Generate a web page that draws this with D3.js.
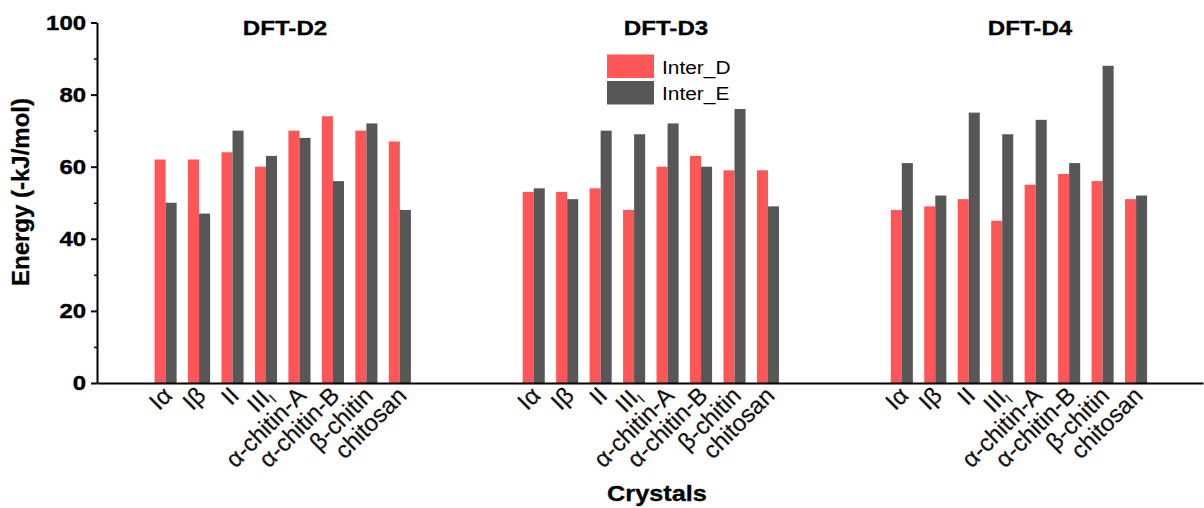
<!DOCTYPE html>
<html>
<head>
<meta charset="utf-8">
<script src="https://cdn.jsdelivr.net/npm/d3@7"></script>
<style>
  html, body { margin: 0; padding: 0; background: #fff; }
  svg { display: block; font-family: Arial, "Liberation Sans", sans-serif; }
</style>
</head>
<body>
<script>
// ---- data ----
const groups = ["DFT-D2", "DFT-D3", "DFT-D4"];
const crystals = ["Iα", "Iβ", "II", "III_I", "α-chitin-A", "α-chitin-B", "β-chitin", "chitosan"];
const seriesNames = ["Inter_D", "Inter_E"];
const d2InterD = [62, 62, 64, 60, 70, 74, 70, 67];
const d2InterE = [50, 47, 70, 63, 68, 56, 72, 48];
const d3InterD = [53, 53, 54, 48, 60, 63, 59, 59];
const d3InterE = [54, 51, 70, 69, 72, 60, 76, 49];
const d4InterD = [48, 49, 51, 45, 55, 58, 56, 51];
const d4InterE = [61, 52, 75, 69, 73, 61, 88, 52];
const yMajorTicks = [0, 20, 40, 60, 80, 100];
const yMinorTicks = [10, 30, 50, 70, 90];

const colors = ["#fd5656", "#575757"];
const interD = [d2InterD, d3InterD, d4InterD];
const interE = [d2InterE, d3InterE, d4InterE];

const W = 1204, H = 508;
const svg = d3.select("body").append("svg").attr("width", W).attr("height", H);

const slotsPerGroup = 11;
const slot = (g, i) => g * slotsPerGroup + i;
const x = d3.scaleLinear().domain([-2.05, 31.0]).range([97, 1203]);
const y = d3.scaleLinear().domain([0, 100]).range([383, 22.5]);
const step = x(1) - x(0);
const barW = step * 0.33;

// bars
const barData = [];
groups.forEach((g, gi) => {
  crystals.forEach((c, ci) => {
    barData.push({ s: 0, pos: slot(gi, ci), v: interD[gi][ci] });
    barData.push({ s: 1, pos: slot(gi, ci), v: interE[gi][ci] });
  });
});
svg.append("g").selectAll("rect").data(barData).join("rect")
  .attr("x", d => x(d.pos) + (d.s === 0 ? -barW : 0))
  .attr("width", barW)
  .attr("y", d => y(d.v))
  .attr("height", d => y(0) - y(d.v))
  .attr("fill", d => colors[d.s]);

// y axis
const yAxis = svg.append("g").attr("transform", `translate(${x(-2.05)},0)`)
  .call(d3.axisLeft(y).tickValues(yMajorTicks).tickSize(6).tickPadding(5).tickSizeOuter(0));
yAxis.select(".domain").attr("stroke", "#000").attr("stroke-width", 2);
yAxis.selectAll(".tick line").attr("stroke", "#000").attr("stroke-width", 2);
yAxis.selectAll(".tick text")
  .attr("font-size", 21).attr("font-weight", "bold").attr("fill", "#000")
  .attr("stroke", "#000").attr("stroke-width", 0.4)
  .attr("font-family", "Arial, 'Liberation Sans', sans-serif")
  .each(function() {
    const t = d3.select(this);
    const xx = +t.attr("x");
    t.attr("x", null).attr("transform", `translate(${xx},0) scale(1.14,1)`);
  });
const yMinor = svg.append("g").attr("transform", `translate(${x(-2.05)},0)`)
  .call(d3.axisLeft(y).tickValues(yMinorTicks).tickSize(3).tickFormat("").tickSizeOuter(0));
yMinor.select(".domain").remove();
yMinor.selectAll(".tick line").attr("stroke", "#000").attr("stroke-width", 1.5);

// x axis (no ticks)
const xAxis = svg.append("g").attr("transform", `translate(0,${y(0)})`)
  .call(d3.axisBottom(x).tickValues([]).tickSizeOuter(0));
xAxis.select(".domain").attr("stroke", "#000").attr("stroke-width", 2);

// category labels
const labelG = svg.append("g");
groups.forEach((g, gi) => {
  crystals.forEach((c, ci) => {
    const t = labelG.append("text")
      .attr("transform", `translate(${x(slot(gi, ci)) + 8},${y(0) + 14}) rotate(-45)`)
      .attr("text-anchor", "end")
      .attr("font-size", 24)
      .attr("fill", "#111")
      .attr("stroke", "#111").attr("stroke-width", 0.25);
    if (c === "III_I") {
      t.append("tspan").text("III");
      t.append("tspan").attr("font-size", 14).attr("dy", 5).text("I");
    } else {
      t.text(c);
    }
  });
});

// group titles
const titleX = [285, 666, 1030];
groups.forEach((g, gi) => {
  svg.append("text")
    .attr("transform", `translate(${titleX[gi]},35) scale(1.15,1)`)
    .attr("text-anchor", "middle")
    .attr("font-size", 21).attr("font-weight", "bold").attr("fill", "#000")
    .attr("stroke", "#000").attr("stroke-width", 0.3)
    .text(g);
});

// legend
const legend = svg.append("g");
seriesNames.forEach((s, si) => {
  legend.append("rect")
    .attr("x", 607).attr("y", 54.5 + si * 26.5)
    .attr("width", 47).attr("height", 23.5)
    .attr("fill", colors[si]);
  legend.append("text")
    .attr("transform", `translate(662,${73.5 + si * 26.8}) scale(1.1,1)`)
    .attr("font-size", 19).attr("fill", "#000")
    .text(s);
});

// axis titles
svg.append("text")
  .attr("transform", `translate(657,501) scale(1.15,1)`)
  .attr("text-anchor", "middle")
  .attr("font-size", 22).attr("font-weight", "bold").attr("fill", "#000")
  .attr("stroke", "#000").attr("stroke-width", 0.3)
  .text("Crystals");
svg.append("text")
  .attr("transform", `translate(29,192) rotate(-90)`)
  .attr("text-anchor", "middle")
  .attr("font-size", 24).attr("font-weight", "bold").attr("fill", "#000")
  .attr("stroke", "#000").attr("stroke-width", 0.3)
  .text("Energy (-kJ/mol)");
</script>
</body>
</html>
